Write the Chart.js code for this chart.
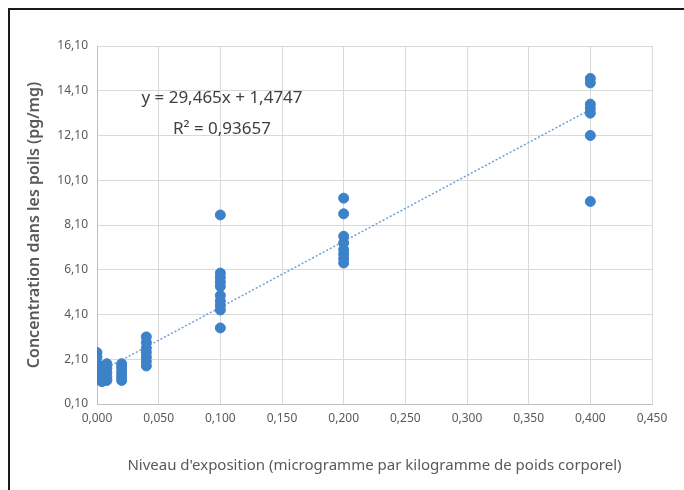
<!DOCTYPE html>
<html>
<head>
<meta charset="utf-8">
<script src="https://cdn.jsdelivr.net/npm/chart.js@4"></script>
<style>
  html, body { margin: 0; padding: 0; background: #fff; }
  #wrap { position: relative; width: 684px; height: 490px; overflow: hidden; }
  #frame {
    position: absolute; left: 8px; top: 8px; width: 700px; height: 500px;
    border-top: 2px solid #1a1a1a; border-left: 2px solid #1a1a1a;
    pointer-events: none;
  }
</style>
</head>
<body>
<div id="wrap">
  <canvas id="chart" width="684" height="490"></canvas>
  <div id="frame"></div>
</div>
<script>
// exposure level of each group and the hair concentrations
const doses = [0, 0.004, 0.008, 0.02, 0.04, 0.1, 0.2, 0.4];
const concDose0 = [2.4, 2.2, 1.9, 1.7, 1.5, 1.35, 1.2];
const concDose004 = [1.8, 1.6, 1.4, 1.25, 1.1];
const concDose008 = [1.9, 1.7, 1.5, 1.3, 1.15];
const concDose02 = [1.9, 1.75, 1.6, 1.45, 1.3, 1.15];
const concDose04 = [3.1, 2.85, 2.6, 2.4, 2.2, 2.0, 1.8];
const concDose1 = [8.55, 5.95, 5.75, 5.55, 5.35, 4.95, 4.7, 4.5, 4.3, 3.5];
const concDose2 = [9.3, 8.6, 7.6, 7.3, 7.0, 6.8, 6.6, 6.4];
const concDose4 = [14.65, 14.45, 13.5, 13.3, 13.1, 12.1, 9.15];
const concByDose = [concDose0, concDose004, concDose008, concDose02, concDose04, concDose1, concDose2, concDose4];

// trend line as printed on the chart
const slope = 29.465;
const intercept = 1.4747;
const rSquared = '0,93657';
const trendRange = [0, 0.4];

const points = [];
doses.forEach((d, i) => {
  concByDose[i].forEach(c => points.push({ x: d, y: c }));
});

const comma = (v, n) => v.toFixed(n).replace('.', ',');

const equationLabel = {
  id: 'equationLabel',
  afterDraw(chart) {
    const ctx = chart.ctx;
    ctx.save();
    ctx.fillStyle = '#404040';
    ctx.font = '17px "Noto Sans", sans-serif';
    ctx.textAlign = 'center';
    ctx.textBaseline = 'middle';
    ctx.fillText('y = ' + comma(slope, 3) + 'x + ' + comma(intercept, 4), 222, 98);
    ctx.fillText('R\u00b2 = ' + rSquared, 222, 129);
    ctx.restore();
  }
};

new Chart(document.getElementById('chart'), {
  type: 'scatter',
  data: {
    datasets: [{
      label: 'Points',
      data: points,
      backgroundColor: '#3d82c9',
      borderColor: '#3d82c9',
      pointRadius: 5,
      pointHoverRadius: 5,
      order: 1,
    }, {
      label: 'Tendance',
      type: 'line',
      data: trendRange.map(x => ({ x: x, y: slope * x + intercept })),
      borderColor: '#6f9fd6',
      borderWidth: 1.5,
      borderDash: [2, 2],
      pointRadius: 0,
      fill: false,
      order: 2,
    }]
  },
  options: {
    responsive: false,
    animation: false,
    layout: { padding: { top: 46, right: 32, left: 0, bottom: 0 } },
    plugins: { legend: { display: false }, tooltip: { enabled: false } },
    scales: {
      x: {
        type: 'linear',
        min: 0,
        max: 0.45,
        afterFit: s => { s.height = 86; },
        grid: { color: '#d9d9d9', drawTicks: false },
        border: { color: '#bfbfbf' },
        ticks: {
          stepSize: 0.05,
          padding: 7,
          color: '#595959',
          font: { family: 'Noto Sans', size: 12 },
          callback: v => comma(v, 3),
        },
        title: {
          display: true,
          text: "Niveau d'exposition (microgramme par kilogramme de poids corporel)",
          color: '#595959',
          font: { family: 'Noto Sans', size: 15 },
          padding: { top: 0, bottom: 15 },
        },
      },
      y: {
        min: 0.1,
        max: 16.1,
        afterFit: s => { s.width = 97; },
        grid: { color: '#d9d9d9', drawTicks: false },
        border: { color: '#bfbfbf' },
        ticks: {
          stepSize: 2,
          padding: 9,
          color: '#595959',
          font: { family: 'Noto Sans', size: 12 },
          callback: v => comma(v, 2),
        },
        title: {
          display: true,
          text: 'Concentration dans les poils (pg/mg)',
          color: '#595959',
          font: { family: 'Noto Sans', size: 16, weight: '600' },
          padding: { top: 25, bottom: 0 },
        },
      },
    },
  },
  plugins: [equationLabel],
});
</script>
</body>
</html>
